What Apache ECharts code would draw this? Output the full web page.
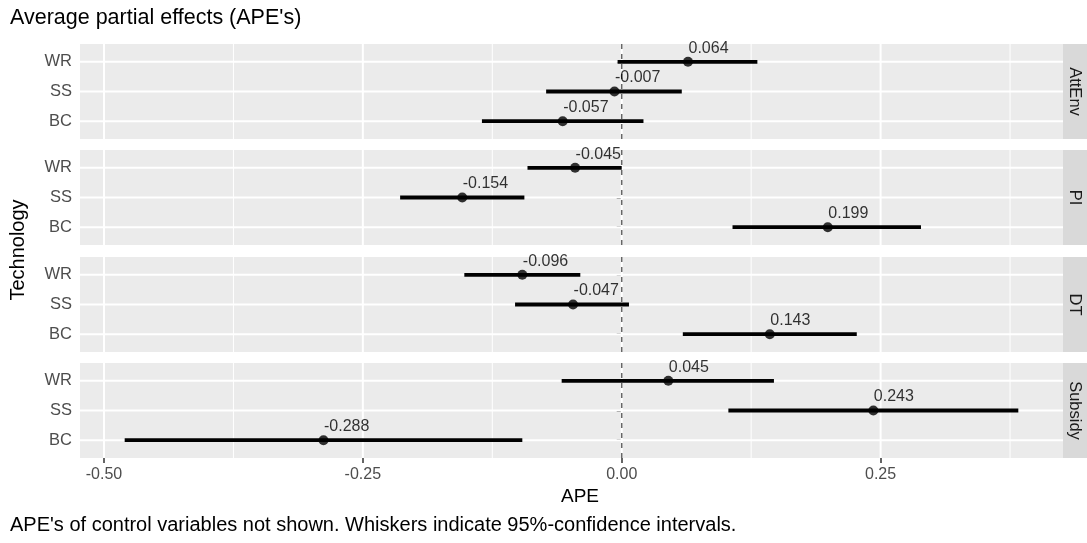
<!DOCTYPE html>
<html>
<head>
<meta charset="utf-8">
<script src="https://cdn.jsdelivr.net/npm/echarts@6/dist/echarts.min.js"></script>
<style>
  html, body { margin: 0; padding: 0; background: #fff; }
  #chart { width: 1087px; height: 543px; }
</style>
</head>
<body>
<div id="chart"></div>
<script>
// ---- Data ----
const facets = ['AttEnv', 'PI', 'DT', 'Subsidy'];
const technologies = ['BC', 'SS', 'WR']; // bottom to top
const xTickValues = [-0.5, -0.25, 0, 0.25];
const xTickLabels = ['-0.50', '-0.25', '0.00', '0.25'];
const xMinorValues = [-0.375, -0.125, 0.125, 0.375];

const apeAttEnv  = [-0.057, -0.007, 0.064];
const lowAttEnv  = [-0.135, -0.073, -0.004];
const highAttEnv = [0.021, 0.058, 0.131];

const apePI  = [0.199, -0.154, -0.045];
const lowPI  = [0.107, -0.214, -0.091];
const highPI = [0.289, -0.094, 0.000];

const apeDT  = [0.143, -0.047, -0.096];
const lowDT  = [0.059, -0.103, -0.152];
const highDT = [0.227, 0.007, -0.040];

const apeSubsidy  = [-0.288, 0.243, 0.045];
const lowSubsidy  = [-0.480, 0.103, -0.058];
const highSubsidy = [-0.096, 0.383, 0.147];

const apeAll  = [apeAttEnv, apePI, apeDT, apeSubsidy];
const lowAll  = [lowAttEnv, lowPI, lowDT, lowSubsidy];
const highAll = [highAttEnv, highPI, highDT, highSubsidy];

// ---- Layout ----
const FONT = 'Liberation Sans, Arial, Helvetica, sans-serif';
const panelLeft = 80, panelRight = 1063, panelH = 95;
const panelTops = [44, 150, 257, 363];
const stripW = 24;

// x range: data range expanded by 5%
const allLow = Math.min(...lowAll.flat()), allHigh = Math.max(...highAll.flat());
const span = allHigh - allLow;
const xMin = allLow - 0.05 * span, xMax = allHigh + 0.05 * span;

const grids = [], xAxes = [], yAxes = [], series = [], graphics = [];

facets.forEach((f, i) => {
  const isLast = i === facets.length - 1;
  grids.push({
    left: panelLeft, top: panelTops[i], width: panelRight - panelLeft, height: panelH,
    show: true, backgroundColor: '#ebebeb', borderWidth: 0
  });
  xAxes.push({
    type: 'value', gridIndex: i, min: xMin, max: xMax,
    axisLine: { show: false },
    splitLine: { show: false },
    axisTick: { show: isLast, customValues: xTickValues, length: 5, lineStyle: { color: '#333', width: 1.5 } },
    axisLabel: {
      show: isLast, customValues: xTickValues, margin: 9,
      color: '#4d4d4d', fontSize: 16, fontFamily: FONT,
      formatter: v => xTickLabels[xTickValues.findIndex(t => Math.abs(t - v) < 1e-9)]
    }
  });
  yAxes.push({
    type: 'value', gridIndex: i, min: 0.4, max: 3.6,
    axisLine: { show: false },
    splitLine: { show: false },
    axisTick: { show: true, customValues: [1, 2, 3], length: 5, lineStyle: { color: '#333', width: 1.5 } },
    axisLabel: {
      show: true, customValues: [1, 2, 3], margin: 8,
      color: '#4d4d4d', fontSize: 16.5, fontFamily: FONT,
      formatter: v => technologies[Math.round(v) - 1]
    }
  });

  // gridlines: horizontal (major at categories)
  series.push({
    type: 'custom', xAxisIndex: i, yAxisIndex: i, silent: true, z: 1,
    data: technologies.map((t, k) => [0, k + 1]),
    renderItem: (params, api) => {
      const cs = params.coordSys;
      const y = api.coord([0, api.value(1)])[1];
      return { type: 'line', shape: { x1: cs.x, y1: y, x2: cs.x + cs.width, y2: y },
               style: { stroke: '#ffffff', lineWidth: 2 } };
    }
  });
  // gridlines: vertical minor
  series.push({
    type: 'custom', xAxisIndex: i, yAxisIndex: i, silent: true, z: 1,
    data: xMinorValues.map(v => [v, 2]),
    renderItem: (params, api) => {
      const cs = params.coordSys;
      const x = api.coord([api.value(0), 2])[0];
      return { type: 'line', shape: { x1: x, y1: cs.y, x2: x, y2: cs.y + cs.height },
               style: { stroke: '#ffffff', lineWidth: 1 } };
    }
  });
  // gridlines: vertical major
  series.push({
    type: 'custom', xAxisIndex: i, yAxisIndex: i, silent: true, z: 1,
    data: xTickValues.map(v => [v, 2]),
    renderItem: (params, api) => {
      const cs = params.coordSys;
      const x = api.coord([api.value(0), 2])[0];
      return { type: 'line', shape: { x1: x, y1: cs.y, x2: x, y2: cs.y + cs.height },
               style: { stroke: '#ffffff', lineWidth: 2 } };
    }
  });
  // zero reference line (dashed)
  series.push({
    type: 'custom', xAxisIndex: i, yAxisIndex: i, silent: true, z: 2,
    data: [[0, 2]],
    renderItem: (params, api) => {
      const cs = params.coordSys;
      const x = api.coord([api.value(0), 2])[0];
      return { type: 'line', shape: { x1: x, y1: cs.y, x2: x, y2: cs.y + cs.height },
               style: { stroke: '#666666', lineWidth: 1.5, lineDash: [5, 5] } };
    }
  });
  // whiskers
  series.push({
    type: 'custom', xAxisIndex: i, yAxisIndex: i, silent: true, z: 3,
    encode: { x: [0, 2], y: 1 },
    data: technologies.map((t, k) => [lowAll[i][k], k + 1, highAll[i][k]]),
    renderItem: (params, api) => {
      const p1 = api.coord([api.value(0), api.value(1)]);
      const p2 = api.coord([api.value(2), api.value(1)]);
      return { type: 'line', shape: { x1: p1[0], y1: p1[1], x2: p2[0], y2: p2[1] },
               style: { stroke: '#000', lineWidth: 3.8 } };
    }
  });
  // points with labels
  series.push({
    type: 'scatter', xAxisIndex: i, yAxisIndex: i, z: 4, silent: true,
    symbol: 'circle', symbolSize: 10,
    itemStyle: { color: '#000' },
    data: technologies.map((t, k) => [apeAll[i][k], k + 1]),
    label: {
      show: true, position: [5.5, -0.5], align: 'left', verticalAlign: 'bottom',
      color: '#000', fontSize: 16, fontFamily: FONT,
      formatter: p => p.value[0].toFixed(3)
    }
  });

  // facet strip
  graphics.push({
    type: 'rect', left: panelRight, top: panelTops[i],
    shape: { width: stripW, height: panelH },
    style: { fill: '#d9d9d9' }, silent: true
  });
  graphics.push({
    type: 'text', x: panelRight + stripW / 2, y: panelTops[i] + panelH / 2,
    rotation: -Math.PI / 2,
    style: { text: f, fill: '#1a1a1a', fontSize: 16.5, fontFamily: FONT, align: 'center', verticalAlign: 'middle' },
    silent: true
  });
});

// titles
graphics.push({
  type: 'text', x: 10, y: 18,
  style: { text: "Average partial effects (APE's)", fill: '#000', fontSize: 21.5, fontFamily: FONT, verticalAlign: 'middle' }
});
graphics.push({
  type: 'text', x: 580, y: 497,
  style: { text: 'APE', fill: '#000', fontSize: 19, fontFamily: FONT, align: 'center', verticalAlign: 'middle' }
});
graphics.push({
  type: 'text', x: 18, y: 250, rotation: Math.PI / 2,
  style: { text: 'Technology', fill: '#000', fontSize: 20, fontFamily: FONT, align: 'center', verticalAlign: 'middle' }
});
graphics.push({
  type: 'text', x: 10, y: 525,
  style: { text: "APE's of control variables not shown. Whiskers indicate 95%-confidence intervals.", fill: '#000', fontSize: 20, fontFamily: FONT, verticalAlign: 'middle' }
});

const chart = echarts.init(document.getElementById('chart'), null, { renderer: 'canvas' });
chart.setOption({
  animation: false,
  backgroundColor: '#ffffff',
  grid: grids,
  xAxis: xAxes,
  yAxis: yAxes,
  series: series,
  graphic: graphics
});
</script>
</body>
</html>
